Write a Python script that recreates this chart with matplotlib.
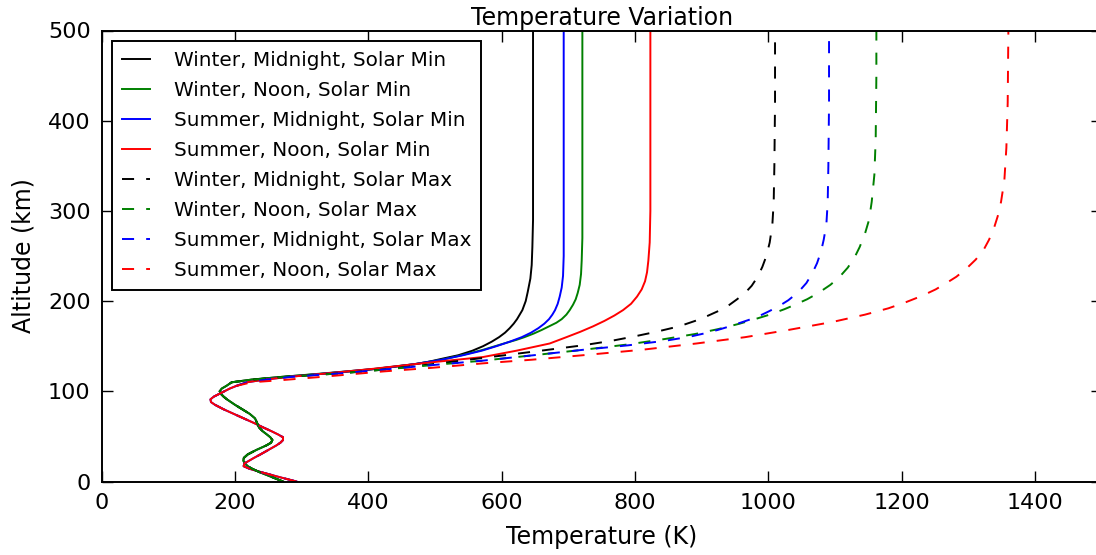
import matplotlib
matplotlib.use("Agg")
import matplotlib.pyplot as plt

# altitude (km) / temperature (K)
# lower atmosphere is shared by every curve of the same season
alt_low = [0, 5, 10, 14, 17, 20, 23, 26, 30, 35, 40, 43, 46, 49, 52, 56, 60, 65, 70, 75, 80, 85, 88, 91, 94, 97, 100, 103, 106]
temp_low_winter = [272, 255, 238, 226, 219, 215, 212.5, 213, 219, 232, 247, 254, 256, 253, 248, 241, 236, 233, 230, 222, 211, 200, 194, 188, 183, 179, 177, 180, 187]
temp_low_summer = [292, 266, 241, 222, 213, 214, 221, 228, 238, 250, 262, 268, 272, 272, 265, 254, 242, 228, 213, 198, 183, 170, 164, 163, 168, 176, 184, 192, 202]

# thermosphere, solar minimum
alt_wm_min = [110, 113, 116, 120, 122, 125, 130, 133, 136, 140, 145, 150, 155, 160, 165, 170, 175, 180, 190, 200, 210, 225, 240, 260, 290, 350, 500]
temp_wm_min = [195, 225, 270, 340, 372, 415, 470, 492, 510, 535, 556, 572, 585, 596, 605, 612, 618, 623, 631, 636, 639, 643, 645, 646, 647, 647, 647]

alt_wn_min = [110, 113, 116, 120, 125, 130, 135, 140, 146, 150, 154, 157, 160, 164, 168, 172, 176, 180, 185, 190, 196, 202, 209, 218, 230, 245, 270, 500]
temp_wn_min = [195, 225, 270, 335, 412, 468, 510, 540, 572, 590, 608, 622, 634, 648, 660, 671, 682, 690, 697, 702, 707, 711, 714, 717, 719, 720, 721, 721]

alt_sm_min = [110, 113, 116, 120, 125, 130, 135, 140, 145, 150, 155, 160, 165, 170, 175, 180, 185, 190, 197, 205, 215, 228, 250, 500]
temp_sm_min = [218, 245, 280, 338, 412, 468, 510, 542, 570, 592, 612, 630, 644, 655, 664, 671, 676, 680, 684, 687, 690, 692, 693, 693]

alt_sn_min = [110, 113, 116, 120, 125, 131, 138, 145, 153, 160, 166, 172, 178, 184, 190, 197, 205, 213, 222, 232, 245, 265, 300, 500]
temp_sn_min = [218, 245, 282, 340, 408, 480, 572, 622, 672, 697, 718, 737, 754, 769, 782, 794, 803, 810, 815, 818, 820, 822, 823, 823]

# thermosphere, solar maximum
alt_wm_max = [110, 113, 116, 120, 124, 130, 137, 144, 151, 156, 161, 166, 172, 178, 183, 189, 195, 202, 209, 217, 227, 238, 250, 265, 285, 310, 350, 420, 500]
temp_wm_max = [195, 228, 275, 360, 422, 495, 572, 648, 722, 765, 800, 832, 866, 890, 907, 925, 940, 953, 965, 975, 984, 991, 997, 1002, 1006, 1008, 1009, 1010, 1010]

alt_wn_max = [110, 113, 116, 120, 124, 129, 134, 140, 146, 152, 158, 163.5, 169, 175, 180, 185, 191, 196, 202, 209, 218, 227, 237, 248, 260, 275, 290, 310, 340, 380, 450, 500]
temp_wn_max = [195, 228, 275, 360, 422, 495, 572, 648, 722, 790, 845, 890, 925, 957, 980, 1002, 1024, 1040, 1058, 1075, 1093, 1107, 1119, 1129, 1137, 1145, 1151, 1155, 1159, 1161, 1162, 1162]

alt_sm_max = [110, 113, 116, 120, 124, 129, 134, 140, 146, 151, 156, 160.5, 164, 168, 172, 177, 182, 188, 194, 201, 210, 220, 231, 242, 255, 268, 285, 310, 350, 420, 500]
temp_sm_max = [218, 248, 285, 360, 422, 495, 572, 648, 722, 790, 845, 882, 903, 924, 942, 962, 982, 999, 1015, 1030, 1045, 1057, 1066, 1073, 1079, 1083, 1087, 1089, 1090, 1091, 1091]

alt_sn_max = [110, 112.5, 116, 122, 126, 131, 135, 140, 146, 153, 160, 168, 177, 185, 192, 199, 206, 213, 220, 227, 236, 246, 257, 268, 280, 294, 310, 334, 370, 420, 500]
temp_sn_max = [225, 272, 330, 422, 495, 572, 645, 722, 810, 892, 965, 1030, 1097, 1145, 1180, 1207, 1231, 1251, 1267, 1282, 1297, 1311, 1323, 1331, 1338, 1344, 1349, 1354, 1357, 1359, 1360]

labels = [
    "Winter, Midnight, Solar Min",
    "Winter, Noon, Solar Min",
    "Summer, Midnight, Solar Min",
    "Summer, Noon, Solar Min",
    "Winter, Midnight, Solar Max",
    "Winter, Noon, Solar Max",
    "Summer, Midnight, Solar Max",
    "Summer, Noon, Solar Max",
]

curvas = [
    (alt_wm_min, temp_wm_min, temp_low_winter, "k", "-"),
    (alt_wn_min, temp_wn_min, temp_low_winter, "g", "-"),
    (alt_sm_min, temp_sm_min, temp_low_summer, "b", "-"),
    (alt_sn_min, temp_sn_min, temp_low_summer, "r", "-"),
    (alt_wm_max, temp_wm_max, temp_low_winter, "k", "--"),
    (alt_wn_max, temp_wn_max, temp_low_winter, "g", "--"),
    (alt_sm_max, temp_sm_max, temp_low_summer, "b", "--"),
    (alt_sn_max, temp_sn_max, temp_low_summer, "r", "--"),
]

plt.rcParams["lines.scale_dashes"] = False
plt.rcParams["lines.dashed_pattern"] = [8.7, 8.7]

fig = plt.figure(figsize=(10.96, 5.55), dpi=100)
ax = fig.add_axes([101.7 / 1096, 1 - 481.5 / 555, 1000 / 1096, 451 / 555])

for (alt, temp, low, color, ls), lab in zip(curvas, labels):
    ax.plot(low + temp, alt_low + alt, color=color, linestyle=ls, linewidth=1.4, label=lab)

ax.set_xlim(0, 1500)
ax.set_ylim(0, 500)
ax.set_xticks(range(0, 1401, 200))
ax.set_yticks(range(0, 501, 100))
ax.tick_params(direction="in", top=True, right=True, length=8, width=1, labelsize=16, pad=8)
for s in ax.spines.values():
    s.set_linewidth(1.4)

ax.set_xlabel("Temperature (K)", fontsize=17, labelpad=9)
ax.set_ylabel("Altitude (km)", fontsize=17, labelpad=9)
ax.set_title("Temperature Variation", fontsize=17, pad=4)

leg = ax.legend(loc="upper left", fontsize=14.4, handlelength=1.4, handletextpad=1.2,
                borderpad=0.5, labelspacing=0.55, fancybox=False,
                edgecolor="k", framealpha=1, borderaxespad=0.5)
leg.get_frame().set_linewidth(1.4)

fig.savefig("out.png", dpi=100)
